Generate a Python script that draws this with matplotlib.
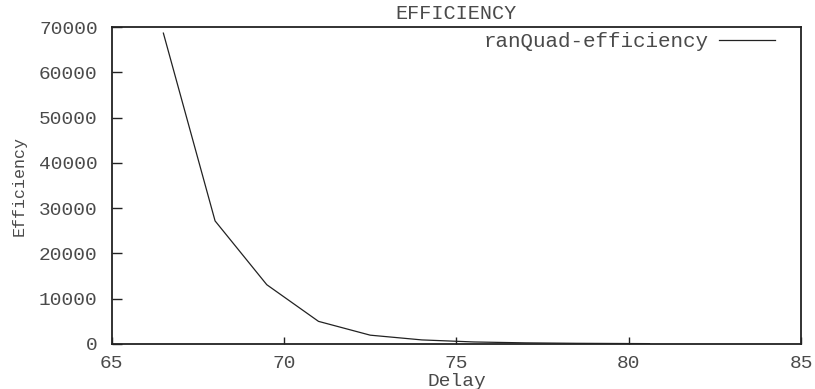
import matplotlib
matplotlib.use("Agg")
import matplotlib.pyplot as plt

# values
delay = [66.5, 68.0, 69.5, 71.0, 72.5, 74.0, 75.5, 77.0, 78.5, 80.0, 80.6]
efficiency = [68700, 27200, 13100, 5000, 1950, 900, 450, 250, 150, 100, 80]
x_ticks = [65, 70, 75, 80, 85]
y_ticks = [0, 10000, 20000, 30000, 40000, 50000, 60000, 70000]

mono = "Liberation Mono"
txt = "#4a4a4a"

fig = plt.figure(figsize=(8.15, 3.89), dpi=100)
ax = fig.add_axes([0.137, 0.1157, 0.846, 0.8143])

ax.plot(delay, efficiency, color="#222222", lw=0.9, label="ranQuad-efficiency")

ax.set_xlim(65, 85)
ax.set_ylim(0, 70000)
ax.set_xticks(x_ticks)
ax.set_yticks(y_ticks)
ax.set_xticklabels([str(t) for t in x_ticks], family=mono, fontsize=14)
ax.set_yticklabels([str(t) for t in y_ticks], family=mono, fontsize=14)
ax.tick_params(axis="y", direction="in", length=7, width=1, pad=10,
               colors="#222222", labelcolor=txt)
ax.tick_params(axis="x", direction="in", length=5, width=1, pad=8,
               colors="#222222", labelcolor=txt)

for s in ax.spines.values():
    s.set_linewidth(1.3)
    s.set_color("#222222")

ax.set_title("EFFICIENCY", family=mono, fontsize=14.5, color=txt, pad=6)
ax.set_xlabel("Delay", family=mono, fontsize=14, color=txt, labelpad=1)
ax.set_ylabel("Efficiency", family=mono, fontsize=12, color=txt, labelpad=9)

leg = ax.legend(loc="upper right", bbox_to_anchor=(0.962, 0.985), frameon=False,
                handlelength=2.7, handletextpad=0.5, borderaxespad=0,
                borderpad=0, markerfirst=False,
                prop={"family": mono, "size": 15})
for t in leg.get_texts():
    t.set_color(txt)

fig.savefig("out.png", dpi=100)
